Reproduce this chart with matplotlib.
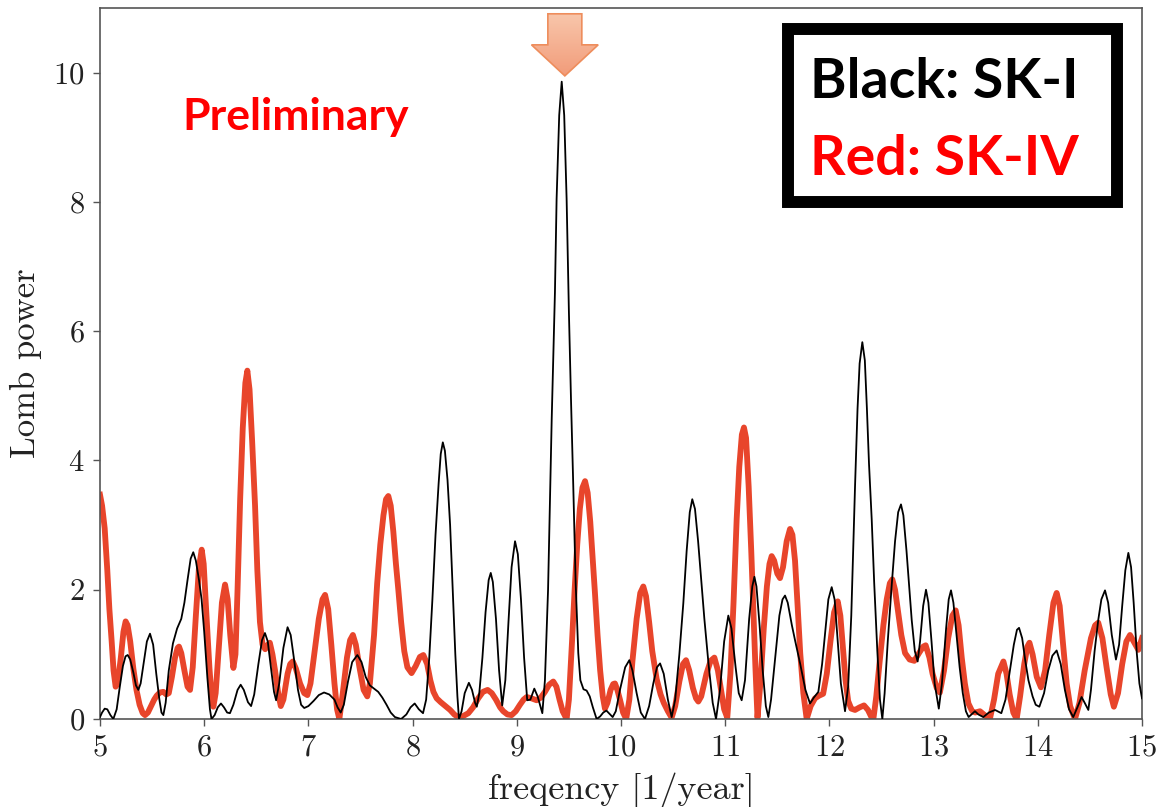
import numpy as np
import matplotlib

matplotlib.use("Agg")
import matplotlib.pyplot as plt
from matplotlib.patches import Polygon, Rectangle

plt.rcParams["axes.formatter.use_mathtext"] = True

# SK-I periodogram (black), (frequency, power)
black = [
    (5.00, 0.03), (5.02, 0.10), (5.045, 0.16), (5.07, 0.15), (5.10, 0.06), (5.128, 0.00),
    (5.16, 0.15), (5.19, 0.50), (5.22, 0.82), (5.245, 0.97), (5.266, 0.99), (5.29, 0.92),
    (5.32, 0.72), (5.345, 0.52), (5.368, 0.45), (5.39, 0.55), (5.42, 0.88), (5.45, 1.20),
    (5.48, 1.32), (5.51, 1.15), (5.54, 0.70), (5.57, 0.30), (5.59, 0.10), (5.608, 0.06),
    (5.63, 0.25), (5.66, 0.75), (5.70, 1.17), (5.74, 1.40), (5.78, 1.55), (5.81, 1.80),
    (5.84, 2.15), (5.87, 2.48), (5.895, 2.58), (5.92, 2.45), (5.95, 2.15), (5.975, 1.85),
    (6.00, 1.35), (6.03, 0.65), (6.055, 0.15), (6.07, 0.00), (6.10, 0.06), (6.13, 0.18),
    (6.161, 0.24), (6.19, 0.18), (6.22, 0.10), (6.247, 0.09), (6.28, 0.22), (6.32, 0.45),
    (6.35, 0.53), (6.38, 0.45), (6.42, 0.26), (6.45, 0.20), (6.48, 0.38), (6.52, 0.85),
    (6.555, 1.22), (6.583, 1.33), (6.61, 1.20), (6.64, 0.80), (6.67, 0.42), (6.69, 0.29),
    (6.72, 0.55), (6.76, 1.10), (6.80, 1.42), (6.83, 1.30), (6.86, 0.95), (6.90, 0.45),
    (6.93, 0.22), (6.96, 0.17), (7.00, 0.20), (7.05, 0.28), (7.10, 0.37), (7.15, 0.41),
    (7.20, 0.38), (7.25, 0.30), (7.28, 0.18), (7.31, 0.10), (7.34, 0.22), (7.38, 0.58),
    (7.42, 0.88), (7.47, 0.99), (7.51, 0.88), (7.55, 0.65), (7.59, 0.52), (7.63, 0.47),
    (7.67, 0.42), (7.71, 0.33), (7.75, 0.22), (7.79, 0.10), (7.83, 0.03), (7.89, 0.00),
    (7.94, 0.07), (7.98, 0.18), (8.02, 0.24), (8.06, 0.15), (8.10, 0.09), (8.13, 0.30),
    (8.16, 0.95), (8.19, 1.85), (8.22, 2.85), (8.25, 3.65), (8.27, 4.10), (8.29, 4.28),
    (8.31, 4.15), (8.335, 3.70), (8.36, 3.00), (8.385, 2.00), (8.41, 1.00), (8.43, 0.35),
    (8.445, 0.00), (8.47, 0.12), (8.50, 0.40), (8.54, 0.56), (8.57, 0.45), (8.60, 0.25),
    (8.616, 0.19), (8.64, 0.40), (8.67, 0.95), (8.70, 1.65), (8.73, 2.15), (8.75, 2.26),
    (8.77, 2.12), (8.80, 1.55), (8.83, 0.75), (8.86, 0.21), (8.89, 0.60), (8.92, 1.50),
    (8.95, 2.35), (8.983, 2.75), (9.01, 2.55), (9.04, 1.85), (9.07, 0.95), (9.10, 0.29),
    (9.13, 0.30), (9.168, 0.47), (9.20, 0.35), (9.245, 0.09), (9.27, 0.60), (9.30, 2.00),
    (9.335, 4.64), (9.366, 6.60), (9.382, 8.05), (9.407, 9.34), (9.431, 9.86), (9.455, 9.34),
    (9.478, 8.05), (9.50, 6.30), (9.52, 4.95), (9.542, 3.60), (9.565, 2.10), (9.59, 1.02),
    (9.61, 0.60), (9.64, 0.46), (9.67, 0.44), (9.70, 0.35), (9.73, 0.18), (9.766, 0.00),
    (9.80, 0.04), (9.83, 0.10), (9.86, 0.13), (9.89, 0.08), (9.92, 0.03), (9.95, 0.12),
    (9.99, 0.45), (10.04, 0.80), (10.08, 0.91), (10.11, 0.75), (10.15, 0.40), (10.19, 0.10),
    (10.23, 0.00), (10.27, 0.20), (10.31, 0.55), (10.345, 0.80), (10.375, 0.86), (10.41, 0.70),
    (10.45, 0.30), (10.486, 0.03), (10.52, 0.30), (10.56, 1.00), (10.598, 1.79), (10.63, 2.60),
    (10.66, 3.20), (10.684, 3.40), (10.71, 3.25), (10.74, 2.75), (10.77, 2.15), (10.80, 1.55),
    (10.84, 0.85), (10.88, 0.25), (10.912, 0.00), (10.95, 0.45), (10.99, 1.20), (11.03, 1.60),
    (11.06, 1.40), (11.10, 0.80), (11.13, 0.40), (11.158, 0.29), (11.19, 0.60), (11.23, 1.55),
    (11.26, 2.05), (11.28, 2.20), (11.30, 2.05), (11.33, 1.45), (11.36, 0.75), (11.39, 0.20),
    (11.414, 0.03), (11.44, 0.30), (11.48, 0.95), (11.52, 1.60), (11.55, 1.85), (11.574, 1.91),
    (11.60, 1.80), (11.64, 1.45), (11.67, 1.22), (11.72, 0.85), (11.77, 0.45), (11.814, 0.24),
    (11.85, 0.33), (11.894, 0.42), (11.93, 0.85), (11.96, 1.35), (11.99, 1.85), (12.022, 2.04),
    (12.05, 1.85), (12.08, 1.20), (12.11, 0.55), (12.15, 0.12), (12.18, 0.50), (12.21, 1.60),
    (12.246, 3.60), (12.27, 4.80), (12.29, 5.50), (12.316, 5.83), (12.34, 5.55), (12.36, 4.80),
    (12.38, 3.95), (12.406, 3.09), (12.43, 2.10), (12.46, 1.05), (12.485, 0.30), (12.508, 0.00),
    (12.53, 0.40), (12.56, 1.20), (12.597, 2.05), (12.63, 2.75), (12.66, 3.20), (12.687, 3.32),
    (12.71, 3.15), (12.74, 2.60), (12.77, 1.95), (12.79, 1.53), (12.82, 1.05), (12.847, 0.89),
    (12.87, 1.20), (12.90, 1.75), (12.927, 2.00), (12.95, 1.80), (12.98, 1.20), (13.01, 0.55),
    (13.05, 0.16), (13.08, 0.55), (13.12, 1.40), (13.145, 1.85), (13.167, 1.99), (13.19, 1.80),
    (13.22, 1.30), (13.25, 0.80), (13.28, 0.40), (13.31, 0.12), (13.336, 0.03), (13.37, 0.08),
    (13.397, 0.12), (13.43, 0.07), (13.477, 0.03), (13.53, 0.10), (13.59, 0.14), (13.65, 0.09),
    (13.69, 0.30), (13.733, 0.76), (13.77, 1.15), (13.80, 1.38), (13.82, 1.41), (13.85, 1.25),
    (13.88, 0.90), (13.91, 0.60), (13.95, 0.35), (13.98, 0.22), (14.015, 0.19), (14.06, 0.40),
    (14.10, 0.75), (14.14, 0.98), (14.181, 1.06), (14.22, 0.85), (14.26, 0.45), (14.30, 0.15),
    (14.34, 0.03), (14.38, 0.18), (14.42, 0.34), (14.45, 0.25), (14.485, 0.14), (14.51, 0.45),
    (14.545, 1.05), (14.58, 1.53), (14.61, 1.85), (14.645, 1.99), (14.675, 1.80), (14.71, 1.30),
    (14.75, 0.92), (14.78, 1.15), (14.81, 1.75), (14.84, 2.30), (14.869, 2.57), (14.895, 2.35),
    (14.92, 1.80), (14.95, 1.02), (14.975, 0.55), (15.00, 0.32),
]

# SK-IV periodogram (red)
red = [
    (5.00, 3.47), (5.02, 3.30), (5.045, 2.95), (5.07, 2.30), (5.09, 1.70), (5.112, 1.20),
    (5.13, 0.75), (5.15, 0.50), (5.17, 0.55), (5.20, 0.95), (5.225, 1.35), (5.246, 1.51),
    (5.265, 1.45), (5.29, 1.20), (5.32, 0.78), (5.35, 0.45), (5.38, 0.22), (5.41, 0.09),
    (5.432, 0.06), (5.46, 0.10), (5.49, 0.20), (5.52, 0.30), (5.544, 0.36), (5.575, 0.41),
    (5.608, 0.42), (5.636, 0.38), (5.66, 0.40), (5.69, 0.65), (5.72, 0.95), (5.745, 1.10),
    (5.758, 1.12), (5.78, 1.02), (5.81, 0.75), (5.84, 0.50), (5.864, 0.45), (5.89, 0.80),
    (5.92, 1.60), (5.95, 2.35), (5.976, 2.62), (5.995, 2.40), (6.02, 1.65), (6.05, 0.80),
    (6.07, 0.35), (6.088, 0.19), (6.11, 0.40), (6.14, 1.10), (6.17, 1.80), (6.20, 2.08),
    (6.225, 1.85), (6.25, 1.30), (6.28, 0.79), (6.30, 1.00), (6.32, 2.00), (6.345, 3.40),
    (6.37, 4.50), (6.395, 5.20), (6.414, 5.39), (6.435, 5.10), (6.46, 4.30), (6.488, 3.30),
    (6.51, 2.30), (6.535, 1.50), (6.56, 1.15), (6.585, 1.08), (6.61, 1.15), (6.63, 1.18),
    (6.655, 1.00), (6.68, 0.75), (6.71, 0.40), (6.735, 0.20), (6.76, 0.30), (6.80, 0.70),
    (6.825, 0.85), (6.85, 0.89), (6.88, 0.78), (6.92, 0.55), (6.96, 0.40), (6.99, 0.37),
    (7.02, 0.55), (7.06, 1.05), (7.10, 1.55), (7.135, 1.85), (7.16, 1.92), (7.19, 1.70),
    (7.22, 1.15), (7.25, 0.55), (7.275, 0.15), (7.297, 0.00), (7.33, 0.40), (7.37, 0.95),
    (7.40, 1.22), (7.427, 1.30), (7.455, 1.15), (7.49, 0.80), (7.53, 0.45), (7.565, 0.35),
    (7.59, 0.55), (7.63, 1.30), (7.66, 2.10), (7.69, 2.70), (7.72, 3.15), (7.745, 3.40),
    (7.767, 3.45), (7.79, 3.30), (7.815, 2.90), (7.84, 2.40), (7.863, 2.00), (7.89, 1.50),
    (7.92, 1.05), (7.95, 0.80), (7.99, 0.71), (8.03, 0.82), (8.07, 0.96), (8.103, 0.99),
    (8.14, 0.85), (8.17, 0.60), (8.20, 0.42), (8.231, 0.32), (8.27, 0.26), (8.30, 0.22),
    (8.33, 0.18), (8.36, 0.14), (8.40, 0.07), (8.445, 0.02), (8.49, 0.05), (8.535, 0.09),
    (8.58, 0.18), (8.63, 0.32), (8.675, 0.42), (8.72, 0.45), (8.76, 0.40), (8.80, 0.30),
    (8.84, 0.18), (8.87, 0.12), (8.91, 0.07), (8.95, 0.06), (8.99, 0.12), (9.03, 0.22),
    (9.065, 0.30), (9.095, 0.34), (9.14, 0.32), (9.19, 0.29), (9.23, 0.33), (9.27, 0.42),
    (9.31, 0.53), (9.35, 0.58), (9.38, 0.50), (9.41, 0.30), (9.44, 0.12), (9.478, 0.00),
    (9.50, 0.30), (9.53, 1.20), (9.555, 2.00), (9.58, 2.70), (9.605, 3.25), (9.63, 3.58),
    (9.655, 3.68), (9.68, 3.50), (9.705, 3.05), (9.73, 2.45), (9.75, 1.95), (9.775, 1.30),
    (9.80, 0.75), (9.825, 0.35), (9.846, 0.16), (9.87, 0.25), (9.90, 0.45), (9.925, 0.54),
    (9.942, 0.55), (9.965, 0.45), (9.99, 0.30), (10.02, 0.10), (10.05, 0.00), (10.08, 0.30),
    (10.11, 0.90), (10.15, 1.55), (10.185, 1.95), (10.214, 2.05), (10.24, 1.90), (10.27, 1.50),
    (10.30, 1.05), (10.342, 0.62), (10.38, 0.38), (10.41, 0.25), (10.45, 0.12), (10.486, 0.02),
    (10.52, 0.20), (10.56, 0.58), (10.595, 0.85), (10.624, 0.91), (10.655, 0.75), (10.69, 0.48),
    (10.72, 0.32), (10.742, 0.27), (10.77, 0.35), (10.82, 0.70), (10.86, 0.90), (10.896, 0.95),
    (10.93, 0.75), (10.96, 0.45), (10.99, 0.15), (11.02, 0.02), (11.05, 0.70), (11.08, 1.80),
    (11.11, 3.09), (11.135, 3.90), (11.16, 4.40), (11.18, 4.51), (11.20, 4.35), (11.225, 3.60),
    (11.25, 2.60), (11.27, 1.70), (11.29, 0.80), (11.31, 0.02), (11.34, 0.60), (11.37, 1.40),
    (11.40, 2.05), (11.425, 2.40), (11.446, 2.52), (11.47, 2.45), (11.50, 2.25), (11.526, 2.18),
    (11.555, 2.35), (11.59, 2.75), (11.622, 2.94), (11.645, 2.85), (11.67, 2.45), (11.695, 1.75),
    (11.72, 1.02), (11.75, 0.40), (11.782, 0.00), (11.82, 0.20), (11.862, 0.32), (11.90, 0.36),
    (11.94, 0.39), (11.975, 0.70), (12.01, 1.20), (12.045, 1.65), (12.08, 1.82), (12.105, 1.60),
    (12.13, 1.10), (12.155, 0.60), (12.18, 0.28), (12.21, 0.16), (12.246, 0.14), (12.29, 0.18),
    (12.332, 0.21), (12.37, 0.14), (12.40, 0.04), (12.422, 0.00), (12.45, 0.35), (12.48, 0.85),
    (12.518, 1.45), (12.55, 1.85), (12.58, 2.10), (12.604, 2.16), (12.63, 2.00), (12.66, 1.65),
    (12.69, 1.30), (12.726, 1.02), (12.77, 0.92), (12.815, 0.90), (12.86, 1.02), (12.90, 1.12),
    (12.924, 1.14), (12.96, 0.95), (12.99, 0.70), (13.03, 0.48), (13.06, 0.41), (13.10, 0.75),
    (13.14, 1.25), (13.18, 1.60), (13.212, 1.68), (13.24, 1.45), (13.27, 0.95), (13.30, 0.55),
    (13.334, 0.24), (13.37, 0.12), (13.40, 0.10), (13.445, 0.12), (13.49, 0.06), (13.54, 0.00),
    (13.58, 0.30), (13.62, 0.70), (13.67, 0.89), (13.70, 0.70), (13.73, 0.38), (13.765, 0.10),
    (13.797, 0.00), (13.83, 0.35), (13.87, 0.85), (13.90, 1.12), (13.92, 1.18), (13.95, 1.00),
    (13.99, 0.65), (14.03, 0.49), (14.07, 0.75), (14.11, 1.30), (14.15, 1.80), (14.181, 1.95),
    (14.21, 1.75), (14.24, 1.20), (14.277, 0.55), (14.31, 0.20), (14.357, 0.00), (14.40, 0.25),
    (14.45, 0.75), (14.51, 1.25), (14.55, 1.45), (14.58, 1.49), (14.62, 1.25), (14.66, 0.80),
    (14.70, 0.38), (14.73, 0.19), (14.77, 0.40), (14.81, 0.85), (14.85, 1.20), (14.885, 1.30),
    (14.92, 1.20), (14.965, 1.07), (15.00, 1.25),
]

x_ticks = [5, 6, 7, 8, 9, 10, 11, 12, 13, 14, 15]
y_ticks = [0, 2, 4, 6, 8, 10]

black_f, black_p = map(np.array, zip(*black))
red_f, red_p = map(np.array, zip(*red))

W, H = 1157, 807
fig = plt.figure(figsize=(W / 100, H / 100), dpi=100)
ax = fig.add_axes([100 / W, 1 - 719 / H, 1042 / W, 711 / H])

ax.plot(black_f, black_p, color="black", lw=1.3, zorder=3, solid_joinstyle="round")
ax.plot(red_f, red_p, color="#e8452b", lw=4.2, zorder=2, solid_joinstyle="round")

ax.set_xlim(5, 15)
ax.set_ylim(0, 11)
ax.set_xticks(x_ticks)
ax.set_yticks(y_ticks)
for s in ax.spines.values():
    s.set_color("#555555")
    s.set_linewidth(1.2)
ax.tick_params(direction="out", length=5, width=1.0, color="#555555",
               labelsize=22, labelcolor="#222222", pad=6)
for lab in ax.get_xticklabels() + ax.get_yticklabels():
    lab.set_fontfamily("cmr10")
ax.set_xlabel("freqency [1/year]", fontfamily="cmr10", fontsize=26, color="#222222", labelpad=8)
ax.set_ylabel("Lomb power", fontfamily="cmr10", fontsize=25, color="#222222", labelpad=8)

# arrow marking the strongest SK-I peak
i_max = int(np.argmax(black_p))
px, py = black_f[i_max] + 0.03, black_p[i_max] + 0.09
sw, hw, hh, th = 0.163, 0.32, 0.48, 0.96
arrow_xy = [(px - sw, py + th), (px + sw, py + th), (px + sw, py + hh), (px + hw, py + hh),
            (px, py), (px - hw, py + hh), (px - sw, py + hh)]
arrow = Polygon(arrow_xy, closed=True, facecolor="none", edgecolor="#ee8d5c", lw=1.2, zorder=6)
ax.add_patch(arrow)
grad = np.linspace(0, 1, 64).reshape(-1, 1)
cmap = matplotlib.colors.LinearSegmentedColormap.from_list("ar", ["#f8c6ab", "#f29c7a"])
img = ax.imshow(grad, extent=(px - hw, px + hw, py, py + th), cmap=cmap, aspect="auto",
                origin="upper", zorder=5)
img.set_clip_path(arrow)
ax.set_xlim(5, 15)
ax.set_ylim(0, 11)

fig.text(182 / W, 1 - 130 / H, "Preliminary", color="#ff0000", fontsize=32,
         fontweight="bold", fontfamily="Lato", ha="left", va="baseline")

box = Rectangle((788 / W, 1 - 202 / H), 329 / W, 173 / H, transform=fig.transFigure,
                facecolor="white", edgecolor="black", lw=8.6, zorder=10)
fig.patches.append(box)
fig.text(810 / W, 1 - 98 / H, "Black: SK-I", color="black", fontsize=40, fontweight="bold",
         fontfamily="Lato", ha="left", va="baseline", zorder=11)
fig.text(810 / W, 1 - 175 / H, "Red: SK-IV", color="#ff0000", fontsize=40, fontweight="bold",
         fontfamily="Lato", ha="left", va="baseline", zorder=11)

fig.savefig("out.png", dpi=100)
